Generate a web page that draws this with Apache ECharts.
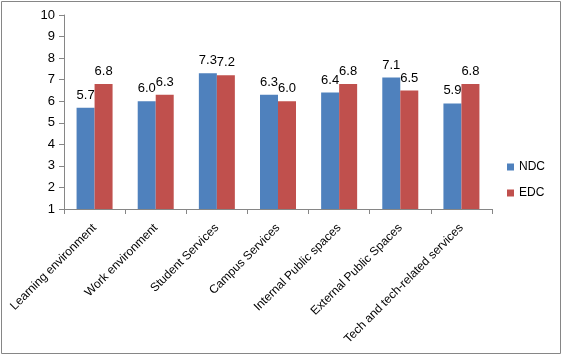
<!DOCTYPE html>
<html><head><meta charset="utf-8">
<script src="https://cdn.jsdelivr.net/npm/echarts@6/dist/echarts.min.js"></script>
<style>html,body{margin:0;padding:0;background:#fff}#c{width:562px;height:355px}</style>
</head><body><div id="c"></div>
<script>
var categories = ["Learning environment","Work environment","Student Services","Campus Services","Internal Public spaces","External Public Spaces","Tech and tech-related services"];
var ndc = [5.7, 6.0, 7.3, 6.3, 6.4, 7.1, 5.9];
var edc = [6.8, 6.3, 7.2, 6.0, 6.8, 6.5, 6.8];
var seriesNames = ["NDC","EDC"];
var font = "Liberation Sans";
var chart = echarts.init(document.getElementById('c'));
var lbl = {show:true, position:'top', distance:6, color:'#000', fontFamily:font, fontSize:13, formatter:function(p){return p.value.toFixed(1);}};
chart.setOption({
  animation:false,
  textStyle:{fontFamily:font},
  graphic:[{type:'rect', shape:{x:1.5,y:1.5,width:559,height:352}, style:{fill:null, stroke:'#868686', lineWidth:1}}],
  grid:{left:64, top:15, right:70, bottom:146},
  legend:{orient:'vertical', right:12, top:156, itemWidth:7, itemHeight:7, itemGap:14, icon:'rect',
    textStyle:{fontFamily:font, fontSize:12, color:'#000'}, data:seriesNames},
  xAxis:{type:'category', data:categories,
    axisLine:{lineStyle:{color:'#868686'}},
    axisTick:{show:true, length:5, lineStyle:{color:'#868686'}},
    axisLabel:{rotate:45, interval:0, color:'#000', fontFamily:font, fontSize:12, margin:17}},
  yAxis:{type:'value', min:1, max:10, interval:1,
    splitLine:{show:false},
    axisLine:{show:true, lineStyle:{color:'#868686'}},
    axisTick:{show:true, length:5, lineStyle:{color:'#868686'}},
    axisLabel:{color:'#000', fontFamily:font, fontSize:13, margin:9}},
  series:[
    {name:seriesNames[0], type:'bar', data:ndc, barWidth:18, barGap:'0%', itemStyle:{color:'#4F81BD'}, label:lbl},
    {name:seriesNames[1], type:'bar', data:edc, barWidth:18, barGap:'0%', itemStyle:{color:'#C0504D'}, label:lbl}
  ]
});
</script></body></html>
